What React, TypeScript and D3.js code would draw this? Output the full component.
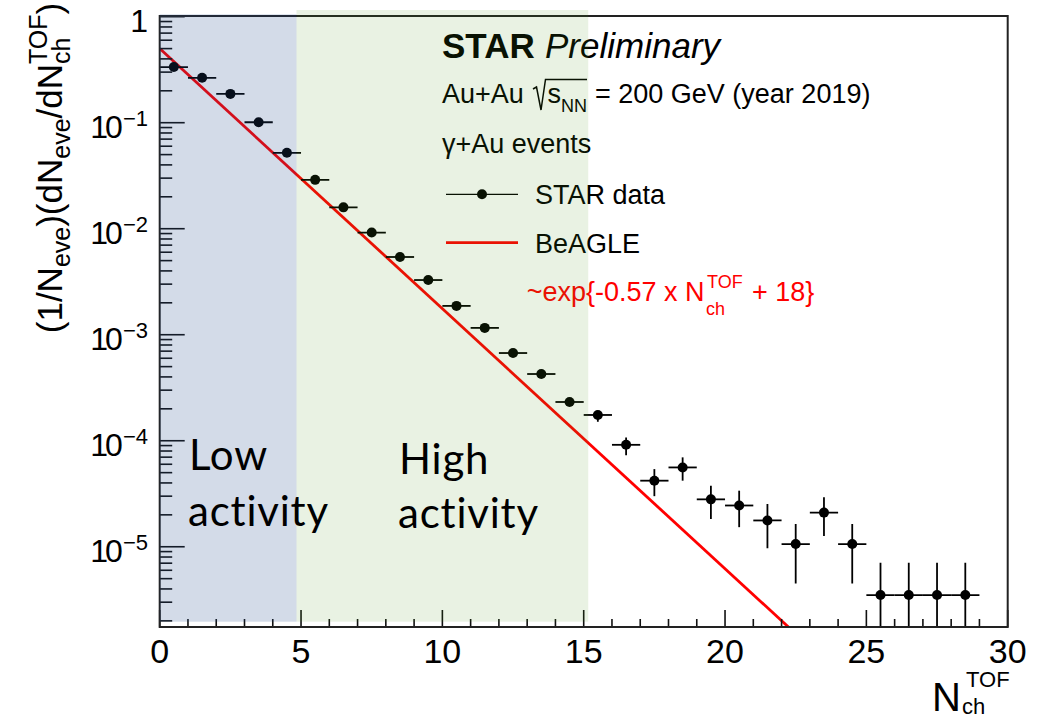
import React from 'react';
import * as d3 from 'd3';

// ---------- data ----------
const binCenters = [0.5, 1.5, 2.5, 3.5, 4.5, 5.5, 6.5, 7.5, 8.5, 9.5, 10.5, 11.5, 12.5, 13.5, 14.5,
  15.5, 16.5, 17.5, 18.5, 19.5, 20.5, 21.5, 22.5, 23.5, 24.5, 25.5, 26.5, 27.5, 28.5];
const binHalfWidth = [0.5, 0.5, 0.5, 0.5, 0.5, 0.5, 0.5, 0.5, 0.5, 0.5, 0.5, 0.5, 0.5, 0.5, 0.5,
  0.5, 0.5, 0.5, 0.5, 0.5, 0.5, 0.5, 0.5, 0.5, 0.5, 0.5, 0.5, 0.5, 0.5];
const starValues = [0.335, 0.265, 0.187, 0.101, 0.052, 0.0289, 0.0159, 0.0092, 0.00541, 0.00328,
  0.00187, 0.00116, 0.000672, 0.000426, 0.000232, 0.000175, 9.15e-5, 4.2e-5, 5.6e-5, 2.8e-5,
  2.45e-5, 1.77e-5, 1.06e-5, 2.1e-5, 1.06e-5, 3.5e-6, 3.5e-6, 3.5e-6, 3.5e-6];
const errUp = [0, 0, 0, 0, 0, 0, 0, 0, 0, 0, 0, 0, 0, 0, 0,
  1.6e-5, 1.6e-5, 1.2e-5, 1.37e-5, 9.7e-6, 9.3e-6, 7.6e-6, 5.8e-6, 8.3e-6, 5.8e-6,
  3.56e-6, 3.56e-6, 3.56e-6, 3.56e-6];
const errDown = [0, 0, 0, 0, 0, 0, 0, 0, 0, 0, 0, 0, 0, 0, 0,
  2.4e-5, 1.84e-5, 1.2e-5, 1.4e-5, 9.7e-6, 9.2e-6, 8.0e-6, 6.1e-6, 8.4e-6, 6.1e-6,
  3.5e-6, 3.5e-6, 3.5e-6, 3.5e-6];

// BeAGLE fit line ~exp{-0.57 x N + 18} (normalised), end points
const beagleX = [0, 22.4];
const beagleY = [0.5, 1.6e-6];

const xTicks = [0, 5, 10, 15, 20, 25, 30];
const xTickLabels = ['0', '5', '10', '15', '20', '25', '30'];
const yDecades = [1, 1e-1, 1e-2, 1e-3, 1e-4, 1e-5];
const yDecadeExp = ['', '−1', '−2', '−3', '−4', '−5'];
const xDomain = [0, 30];
const yDomain = [1.75e-6, 1.015];

const lowRegion = [0, 4.84];
const highRegion = [4.84, 15.16];

// ---------- layout ----------
const W = 1050;
const H = 719;
const L = 159.7, R = 1007.7, T = 16, B = 627;
const FONT = '"Liberation Sans", Arial, Helvetica, sans-serif';

export default function App() {
  const x = d3.scaleLinear().domain(xDomain).range([L, R]);
  const y = d3.scaleLog().domain(yDomain).range([B, T]);

  const minorY: number[] = [];
  for (let e = -6; e <= 0; e++) {
    for (let m = 2; m <= 9; m++) {
      const v = m * Math.pow(10, e);
      if (v >= yDomain[0] && v <= yDomain[1]) minorY.push(v);
    }
  }
  const minorX = d3.range(0, 31).filter((v) => v % 5 !== 0);

  const line = d3.line<number>().x((d, i) => x(beagleX[i])).y((d, i) => y(beagleY[i]));

  const clampY = (v: number) => (v <= 0 ? B : Math.min(B, Math.max(T, y(v))));

  return (
    <svg width={W} height={H} style={{ position: 'absolute', left: 0, top: 0, background: '#fff' }}
      fontFamily={FONT}>
      <defs>
        <clipPath id="plotClip">
          <rect x={L} y={T} width={R - L} height={B - T} />
        </clipPath>
      </defs>
      <rect x={0} y={0} width={W} height={H} fill="#fff" />

      {/* BeAGLE line */}
      <path d={line(beagleY) || ''} fill="none" stroke="#ff0000" strokeWidth={2.8} clipPath="url(#plotClip)" />

      {/* STAR data */}
      <g clipPath="url(#plotClip)" stroke="#000" strokeWidth={1.8}>
        {binCenters.map((c, i) => (
          <g key={i}>
            <line x1={x(c - binHalfWidth[i])} x2={x(c + binHalfWidth[i])} y1={y(starValues[i])} y2={y(starValues[i])} />
            {errUp[i] > 0 && (
              <line x1={x(c)} x2={x(c)} y1={clampY(starValues[i] + errUp[i])} y2={clampY(starValues[i] - errDown[i])} />
            )}
            <circle cx={x(c)} cy={y(starValues[i])} r={5} fill="#000" stroke="none" />
          </g>
        ))}
      </g>

      {/* axes frame */}
      <g stroke="#111" strokeWidth={1.6}>
        {yDecades.map((v, i) => (
          <line key={'yM' + i} x1={L} x2={L + 25} y1={y(v)} y2={y(v)} />
        ))}
        {minorY.map((v, i) => (
          <line key={'ym' + i} x1={L} x2={L + 12.5} y1={y(v)} y2={y(v)} />
        ))}
        {xTicks.map((v, i) => (
          <line key={'xM' + i} x1={x(v)} x2={x(v)} y1={B} y2={B - 17} />
        ))}
        {minorX.map((v, i) => (
          <line key={'xm' + i} x1={x(v)} x2={x(v)} y1={B} y2={B - 8} />
        ))}
      </g>
      <rect x={L} y={T} width={R - L} height={B - T} fill="none" stroke="#222" strokeWidth={2} />

      {/* Legend / texts */}
      <g fill="#000">
        <text x={442} y={58.3} fontSize={35} fontWeight="bold">STAR</text>
        <text x={545} y={58.3} fontSize={35} fontStyle="italic">Preliminary</text>

        <text x={442} y={102.7} fontSize={27}>Au+Au</text>
        <path d="M533,89 L536.5,87 L541,110 L545.5,79.5 L587,79.5" fill="none" stroke="#000" strokeWidth={1.5} />
        <text x={547.5} y={102.7} fontSize={27}>s<tspan dy={9} fontSize={18}>NN</tspan></text>
        <text x={595} y={102.7} fontSize={27}>= 200 GeV (year 2019)</text>

        <text x={442} y={153.3} fontSize={27}>γ+Au events</text>

        <line x1={446} x2={518} y1={194.3} y2={194.3} stroke="#000" strokeWidth={1.3} />
        <circle cx={482} cy={194.3} r={5} fill="#000" />
        <text x={535} y={204.3} fontSize={27}>STAR data</text>

        <line x1={446} x2={518} y1={242.7} y2={242.7} stroke="#ff0000" strokeWidth={2.8} />
        <text x={535} y={252.7} fontSize={27}>BeAGLE</text>
      </g>
      <g fill="#ff0000">
        <text x={526.7} y={301} fontSize={27}>~exp{'{'}-0.57 x N</text>
        <text x={706} y={315} fontSize={18}>ch</text>
        <text x={707} y={288.3} fontSize={18}>TOF</text>
        <text x={752} y={301} fontSize={27}>+ 18{'}'}</text>
      </g>

      {/* tick labels */}
      <g fill="#000">
        {yDecades.map((v, i) => (
          <text key={'yl' + i} x={148} y={y(v) + 15.5} fontSize={32} textAnchor="end">
            {i === 0 ? '1' : (
              <>
                <tspan letterSpacing={-3}>10</tspan>
                <tspan dx={3} dy={-12} fontSize={22}>{yDecadeExp[i]}</tspan>
              </>
            )}
          </text>
        ))}
        {xTicks.map((v, i) => (
          <text key={'xl' + i} x={x(v)} y={663} fontSize={34} textAnchor="middle">{xTickLabels[i]}</text>
        ))}
      </g>

      {/* axis titles */}
      <text transform="translate(62,168) rotate(-90)" fontSize={35} textAnchor="middle" fill="#000">
        (1/N<tspan dy={8} fontSize={25}>eve</tspan><tspan dy={-8}>)(dN</tspan><tspan dy={8} fontSize={25}>eve</tspan><tspan dy={-8}>/dN</tspan><tspan dy={8} fontSize={25}>ch</tspan><tspan dx={-26.4} dy={-23} fontSize={25}>TOF</tspan><tspan dy={15}>)</tspan>
      </text>
      <g fill="#000">
        <text x={932} y={711} fontSize={40}>N</text>
        <text x={962} y={714} fontSize={22}>ch</text>
        <text x={966} y={687} fontSize={22}>TOF</text>
      </g>

      {/* activity regions (translucent overlays) */}
      <rect x={x(lowRegion[0])} y={14.3} width={x(lowRegion[1]) - x(lowRegion[0])} height={621.7 - 14.3}
        fill="rgb(35,75,140)" fillOpacity={0.2} />
      <rect x={x(highRegion[0])} y={10} width={x(highRegion[1]) - x(highRegion[0])} height={621.7 - 10}
        fill="rgb(72,147,22)" fillOpacity={0.12} />

      <g fill="#000" fontFamily="Lato, 'Open Sans', sans-serif" fontSize={42} letterSpacing={0.8}>
        <text x={189} y={470}>Low</text>
        <text x={188} y={526}>activity</text>
        <text x={399} y={474}>High</text>
        <text x={398} y={528}>activity</text>
      </g>
    </svg>
  );
}
